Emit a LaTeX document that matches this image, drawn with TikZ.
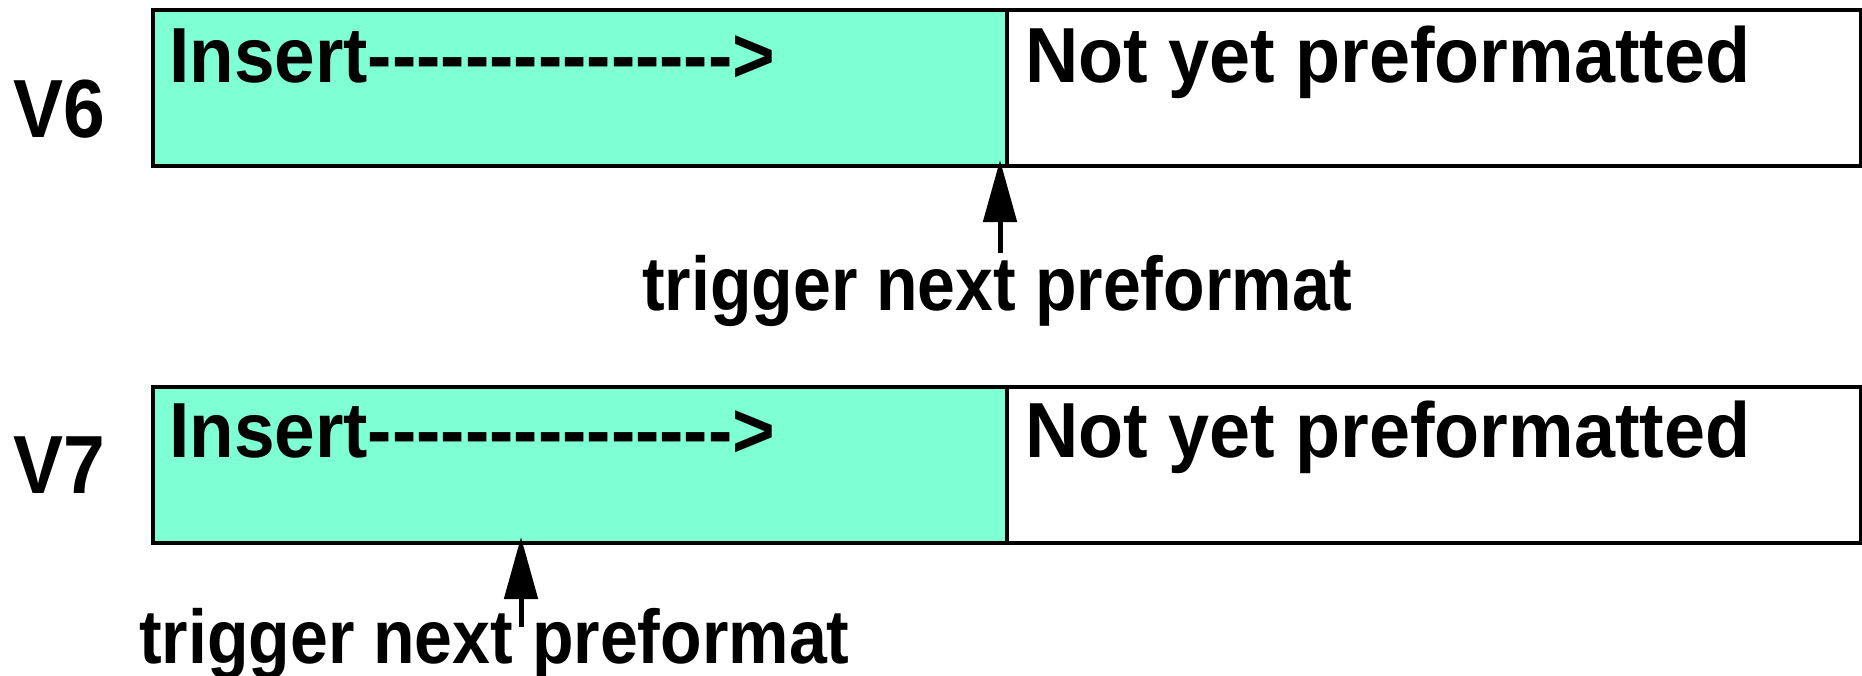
\documentclass[tikz,border=0pt]{standalone}
\usepackage{fontspec}
\setmainfont{Liberation Sans}
\usetikzlibrary{arrows.meta}
\definecolor{aqua}{HTML}{7FFFD4}
\newcommand\hyphenrun{-{}-{}-{}-{}-{}-{}-{}-{}-{}-{}-{}-{}-{}-{}-{}}
\begin{document}
\begin{tikzpicture}[x=1pt,y=-1pt,
  cell/.style={draw=black,line width=4pt,minimum width=854pt,minimum height=156pt,inner sep=0pt,anchor=north west},
  filled/.style={cell,fill=aqua},
  blank/.style={cell,fill=white},
  boxtext/.style={anchor=base west,inner sep=0pt,font=\fontsize{73}{80}\selectfont\bfseries},
  vlabel/.style={anchor=base west,inner sep=0pt,font=\fontsize{75}{80}\selectfont\bfseries},
  trigtext/.style={anchor=base west,inner sep=0pt,font=\fontsize{68}{76}\selectfont\bfseries},
  trigarrow/.style={line width=5pt,-{Triangle[length=62pt,width=33pt]}}]
\useasboundingbox (0,0) rectangle (1862,675);
% V6 row
\node[filled] (ins6) at (151,8) {};
\node[blank] (not6) at (1005,8) {};
\node[boxtext] (ins6t) at (169,82) {\scalebox{1}[1.07]{Insert\hyphenrun{}>}};
\node[boxtext] (not6t) at (1025,82) {\scalebox{1.01}[1.07]{Not yet preformatted}};
\node[vlabel] (v6) at (13,137) {\scalebox{1}[1.1]{V6}};
\node[trigtext] (trig6) at (642,310) {\scalebox{1}[1.12]{trigger next preformat}};
\coordinate (tail6) at (1000,253);
\coordinate (tip6) at (1000,160);
\draw[trigarrow] (tail6) -- (tip6);
% V7 row
\node[filled] (ins7) at (151,385) {};
\node[blank] (not7) at (1005,385) {};
\node[boxtext] (ins7t) at (169,457) {\scalebox{1}[1.07]{Insert\hyphenrun{}>}};
\node[boxtext] (not7t) at (1025,457) {\scalebox{1.01}[1.07]{Not yet preformatted}};
\node[vlabel] (v7) at (13,493) {\scalebox{1}[1.1]{V7}};
\node[trigtext] (trig7) at (139,663) {\scalebox{1}[1.12]{trigger next preformat}};
\coordinate (tail7) at (521,627);
\coordinate (tip7) at (521,537);
\draw[trigarrow] (tail7) -- (tip7);
\end{tikzpicture}
\end{document}
